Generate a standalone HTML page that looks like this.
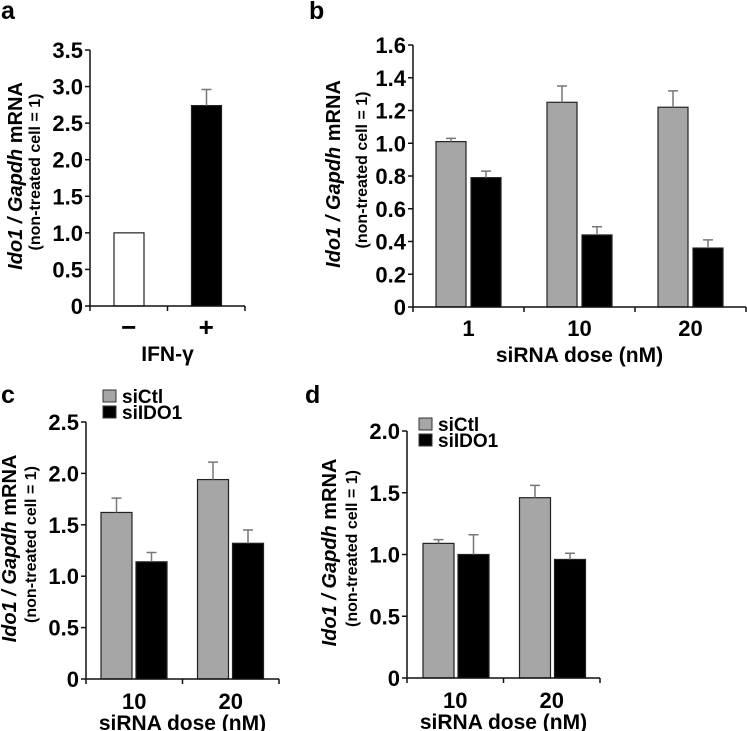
<!DOCTYPE html>
<html><head><meta charset="utf-8"><style>
html,body{margin:0;padding:0;background:#fff}
svg{display:block;font-family:"Liberation Sans",sans-serif;font-weight:bold}
</style></head><body>
<svg id="fig" width="747" height="731" xmlns="http://www.w3.org/2000/svg"></svg>
<script>
// Panel a
const aCats=["−","+"];
const aVals=[1.0,2.74];
const aErr=[0,0.22];
const aTicks=[0,0.5,1.0,1.5,2.0,2.5,3.0,3.5];
const aTickLabels=["0","0.5","1.0","1.5","2.0","2.5","3.0","3.5"];
// Panel b
const bCats=["1","10","20"];
const bCtl=[1.01,1.25,1.22];
const bCtlErr=[0.02,0.10,0.10];
const bIdo=[0.79,0.44,0.36];
const bIdoErr=[0.04,0.05,0.05];
const bTicks=[0,0.2,0.4,0.6,0.8,1.0,1.2,1.4,1.6];
const bTickLabels=["0","0.2","0.4","0.6","0.8","1.0","1.2","1.4","1.6"];
// Panel c
const cCats=["10","20"];
const cCtl=[1.62,1.94];
const cCtlErr=[0.14,0.17];
const cIdo=[1.14,1.32];
const cIdoErr=[0.09,0.13];
const cTicks=[0,0.5,1.0,1.5,2.0,2.5];
const cTickLabels=["0","0.5","1.0","1.5","2.0","2.5"];
// Panel d
const dCats=["10","20"];
const dCtl=[1.09,1.46];
const dCtlErr=[0.03,0.10];
const dIdo=[1.00,0.96];
const dIdoErr=[0.16,0.05];
const dTicks=[0,0.5,1.0,1.5,2.0];
const dTickLabels=["0","0.5","1.0","1.5","2.0"];

const svg=document.getElementById('fig');
const NS="http://www.w3.org/2000/svg";
function mk(tag,attrs,parent){const e=document.createElementNS(NS,tag);for(const k in attrs)e.setAttribute(k,attrs[k]);(parent||svg).appendChild(e);return e;}

function panel(p){
  const g=mk('g',{});
  
  
  const y=v=>p.y0-(v/p.max)*(p.y0-p.yTop);
  const gw=(p.x1-p.x0)/p.cats.length;
  const xg=i=>p.x0+gw*i;
  const ymid=(p.yTop+p.y0)/2-2;
  const L=mk('text',{x:p.lx,y:p.ly,'font-size':25},g);L.textContent=p.id;
  
  
  const yt=mk('text',{transform:`translate(${p.yl1},${ymid}) rotate(-90)`,'text-anchor':'middle','font-size':20},g);
  
  
  yt.innerHTML='<tspan font-style="italic">Ido1 / Gapdh</tspan> mRNA';
  const yt2=mk('text',{transform:`translate(${p.yl2},${ymid-4}) rotate(-90)`,'text-anchor':'middle','font-size':16},g);
  
  
  yt2.textContent='(non-treated cell = 1)';
  p.series.forEach((s,si)=>{
    s.vals.forEach((v,i)=>{
      const bx=xg(i)+p.off[si];
      const fill=(s.fills?s.fills[i]:s.fill);
      const r=mk('rect',{x:bx,y:y(v),width:p.bw,height:p.y0-y(v),fill:fill,stroke:'#222','stroke-width':1.2},g);
      
      
      if(s.err[i]>0){
        const cx=bx+p.bw/2;
        const e=mk('path',{d:`M${cx},${y(v)}V${y(v+s.err[i])}M${cx-5},${y(v+s.err[i])}H${cx+5}`,stroke:'#777','stroke-width':1.5,fill:'none'},g);
        
        
      }
    });
  });
  const ax=mk('path',{d:`M${p.x0},${p.yTop}V${p.y0}H${p.x1}`,stroke:'#111','stroke-width':1.5,fill:'none'},g);
  
  
  p.ticks.forEach((t,i)=>{
    mk('path',{d:`M${p.x0-5},${y(t)}H${p.x0}`,stroke:'#111','stroke-width':1.5},g);
    const tl=mk('text',{x:p.x0-7,y:y(t)+8,'text-anchor':'end','font-size':22},g);
    tl.textContent=p.tickLabels[i];
    
    
  });
  for(let i=0;i<=p.cats.length;i++){mk('path',{d:`M${xg(i)},${p.y0}V${p.y0+5}`,stroke:'#111','stroke-width':1.5},g);}
  p.cats.forEach((c,i)=>{
    const xl=mk('text',{x:xg(i)+gw/2,y:p.y0+p.xlOff,'text-anchor':'middle','font-size':p.catSize||22},g);
    xl.textContent=c;
    
    
  });
  const xt=mk('text',{x:(p.x0+p.x1)/2,y:p.y0+p.xtOff,'text-anchor':'middle','font-size':21},g);
  xt.textContent=p.xtitle;
  
  
  if(p.legend){
    [['siCtl','#a6a6a6'],['siIDO1','#000']].forEach((l,i)=>{
      const lr=mk('rect',{x:p.legend[0],y:p.legend[1]+i*16,width:13,height:12,fill:l[1],stroke:'#333','stroke-width':1},g);
      
      
      const lt=mk('text',{x:p.legend[0]+19,y:p.legend[1]+i*16+13,'font-size':19},g);
      lt.textContent=l[0];
      
      
    });
  }
}
panel({id:'a',lx:1,ly:19,x0:90,x1:245,yTop:50,y0:306,max:3.5,cats:aCats,ticks:aTicks,tickLabels:aTickLabels,
  series:[{name:'ifn',vals:aVals,err:aErr,fills:['#fff','#000']}],bw:30,off:[24],yl1:22,yl2:40,xlOff:30,xtOff:55,xtitle:'IFN-γ',catSize:26});
panel({id:'b',lx:309,ly:19,x0:413,x1:746,yTop:45,y0:307,max:1.6,cats:bCats,ticks:bTicks,tickLabels:bTickLabels,
  series:[{name:'siCtl',vals:bCtl,err:bCtlErr,fill:'#a6a6a6'},{name:'siIDO1',vals:bIdo,err:bIdoErr,fill:'#000'}],bw:30,off:[23,58],yl1:340,yl2:367,xlOff:29,xtOff:55,xtitle:'siRNA dose (nM)'});
panel({id:'c',lx:1,ly:403,x0:86,x1:279,yTop:422,y0:679,max:2.5,cats:cCats,ticks:cTicks,tickLabels:cTickLabels,
  series:[{name:'siCtl',vals:cCtl,err:cCtlErr,fill:'#a6a6a6'},{name:'siIDO1',vals:cIdo,err:cIdoErr,fill:'#000'}],bw:31,off:[15,50],yl1:16,yl2:36,xlOff:30,xtOff:51,xtitle:'siRNA dose (nM)',legend:[103,390]});
panel({id:'d',lx:305,ly:403,x0:407,x1:600,yTop:431,y0:678,max:2.0,cats:dCats,ticks:dTicks,tickLabels:dTickLabels,
  series:[{name:'siCtl',vals:dCtl,err:dCtlErr,fill:'#a6a6a6'},{name:'siIDO1',vals:dIdo,err:dIdoErr,fill:'#000'}],bw:31,off:[16,51],yl1:336,yl2:357,xlOff:30,xtOff:51,xtitle:'siRNA dose (nM)',legend:[419,418]});
</script>
</body></html>
